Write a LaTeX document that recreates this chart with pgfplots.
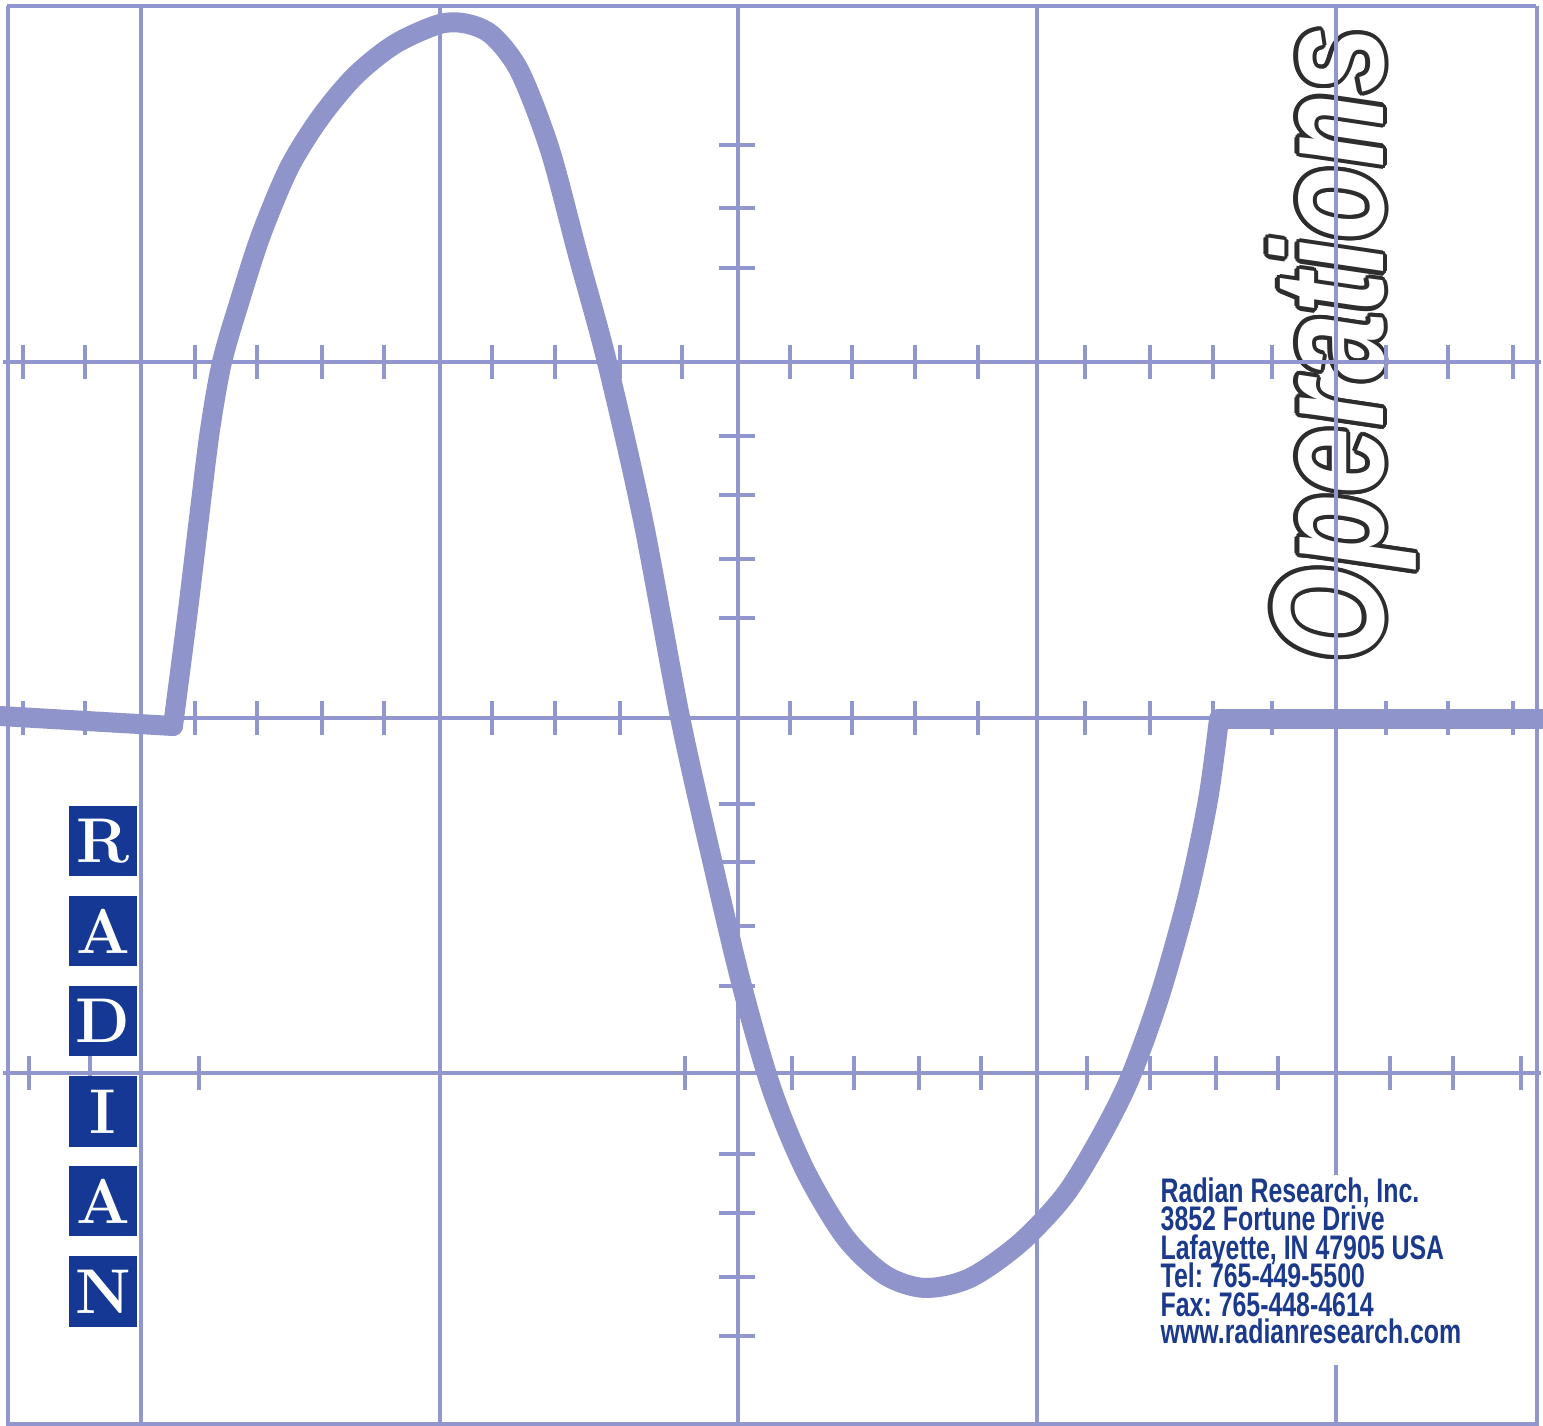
\documentclass[border=0pt]{standalone}
\usepackage{pgfplots}
\pgfplotsset{compat=1.18}
\usepackage{fontspec}
\newfontfamily\opsfont[FakeStretch=0.76]{Liberation Sans}
\newfontfamily\addrfont[FakeStretch=0.73]{Liberation Sans}
\frenchspacing

\definecolor{gridc}{RGB}{146,150,206}
\definecolor{wavec}{RGB}{143,148,203}
\definecolor{radblue}{RGB}{20,56,148}
\definecolor{addrc}{RGB}{28,58,140}
\definecolor{outl}{RGB}{45,45,45}

\tikzset{
  gl/.style={gridc, line width=0.4mm},
  tk/.style={gridc, line width=0.4mm},
  ops/.style={rotate=90, anchor=base west, inner sep=0pt,
    font=\opsfont\bfseries\itshape\fontsize{45}{50}\selectfont},
  rl/.style={white, inner sep=0pt, font=\bfseries\fontsize{18}{18}\selectfont},
  ad/.style={anchor=base west, inner sep=0pt, text=addrc,
    font=\addrfont\bfseries\fontsize{9.7}{9.7}\selectfont},
  wave/.style={wavec, line width=2mm, line join=round, line cap=round},
}

\begin{document}
\begin{tikzpicture}
\begin{axis}[
  name=ax,
  width=154.3mm, height=142.6mm, scale only axis,
  xmin=0, xmax=1543, ymin=0, ymax=1426,
  y dir=reverse,
  hide axis,
]
% background
\fill[white] (0,0) rectangle (1543,1426);

% outlined title, drawn under the grid
\pgfplotsinvokeforeach{0,22.5,...,337.5}{
  \node[ops, outl, shift={(#1:0.42mm)}] at (1383,662) {Operations};
}
\node[ops, white] at (1383,662) {Operations};

% frame
\draw[gl] (7,6) -- (1536,6);
\draw[gl] (8,6) -- (8,1426);
\draw[gl] (1537,6) -- (1537,1426);
\draw[gl] (7,1424) -- (1537,1424);

% main grid
\pgfplotsinvokeforeach{362,718,1073}{
  \draw[gl] (3,#1) -- (1541,#1);
}
\pgfplotsinvokeforeach{141,440,738,1037,1336}{
  \draw[gl] (#1,6) -- (#1,1426);
}

% small ticks on the horizontal lines
\pgfplotsinvokeforeach{23,85,195,257,322,384,492,555,620,682,790,852,915,978,1085,1150,1213,1272,1386,1448,1513}{
  \draw[tk] (#1,345) -- (#1,379);
  \draw[tk] (#1,701) -- (#1,735);
}
\pgfplotsinvokeforeach{29,90,199,685,792,854,919,981,1087,1150,1216,1278,1390,1453,1521}{
  \draw[tk] (#1,1056) -- (#1,1090);
}
% small ticks on the centre vertical line
\pgfplotsinvokeforeach{145,208,268,436,495,559,618,804,862,926,986,1154,1213,1277,1336}{
  \draw[tk] (719,#1) -- (755,#1);
}

% the wave: flat lead-in, one cycle, flat tail
\addplot[wave] coordinates {(0,716) (173,726)};
\addplot[wave, smooth, tension=0.5] coordinates {
  (173,726) (188,610) (200,510) (210,430) (222,362) (240,300) (261,235)
  (289,168) (320,118) (355,76) (395,44) (440,24) (468,24) (493,36)
  (520,72) (550,150) (578,255) (607,362) (643,520) (680,717) (712,860)
  (742,986) (772,1090) (805,1170) (845,1237) (885,1275) (925,1288)
  (970,1278) (1020,1243) (1065,1195) (1100,1138) (1130,1078) (1160,995)
  (1188,895) (1208,800) (1219,719)
};
\addplot[wave] coordinates {(1219,719) (1543,719)};

% RADIAN blocks
\fill[radblue] (69,806) rectangle (137,876);
\node[rl] at (103,841) {R};
\fill[radblue] (69,896) rectangle (137,966);
\node[rl] at (103,931) {A};
\fill[radblue] (69,986) rectangle (137,1056);
\node[rl] at (103,1021) {D};
\fill[radblue] (69,1076) rectangle (137,1147);
\node[rl] at (103,1111.5) {I};
\fill[radblue] (69,1166) rectangle (137,1236);
\node[rl] at (103,1201) {A};
\fill[radblue] (69,1256) rectangle (137,1327);
\node[rl] at (103,1291.5) {N};

% address block
\fill[white] (1150,1175) rectangle (1475,1365);
\node[ad] at (1160,1203) {Radian Research, Inc.};
\node[ad] at (1160,1231) {3852 Fortune Drive};
\node[ad] at (1160,1259) {Lafayette, IN 47905 USA};
\node[ad] at (1160,1287) {Tel: 765-449-5500};
\node[ad] at (1160,1316) {Fax: 765-448-4614};
\node[ad] at (1160,1344) {www.radianresearch.com};
\end{axis}
\pgfresetboundingbox
\useasboundingbox (ax.south west) rectangle (ax.north east);
\end{tikzpicture}
\end{document}
